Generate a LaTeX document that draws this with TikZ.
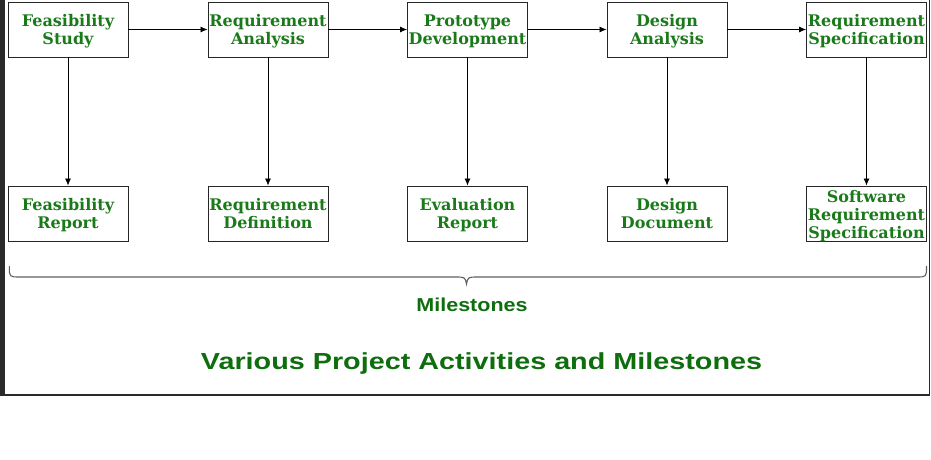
\documentclass[tikz,border=0pt]{standalone}
\usepackage{fontspec}
\setmainfont{DejaVu Serif}
\setsansfont{Liberation Sans}
\usetikzlibrary{arrows.meta}
\definecolor{boxgreen}{RGB}{26,122,26}
\definecolor{titlegreen}{RGB}{14,110,14}
\definecolor{framegray}{RGB}{42,42,42}
\definecolor{bracegray}{RGB}{95,95,95}
\begin{document}
\begin{tikzpicture}[x=1pt,y=-1pt,
  stagebox/.style={draw=black!85, line width=0.9pt, minimum width=120pt,
    minimum height=55pt, inner sep=0pt},
  % label text sits on the baseline of its last line
  stagetext/.style={inner sep=0pt, align=center, anchor=base,
    yshift=-14.8pt,
    font=\fontsize{16}{17.8}\selectfont\bfseries, text=boxgreen},
  threeline/.style={yshift=-10.2pt, font=\fontsize{16}{18}\selectfont\bfseries},
  flow/.style={-{Latex[length=7pt,width=6pt]}, line width=0.8pt, black}]
\useasboundingbox (0,0) rectangle (931,460);

% page frame: dark left bar, thin right and bottom rules
\fill[framegray] (0,0) rectangle (4.5,395.8);
\draw[framegray, line width=1.6pt] (0,395) -- (929.6,395) -- (929.6,0);

% activities
\node[stagebox] (fs) at (68,29.5)    {};
\node[stagebox] (ra) at (268,29.5)   {};
\node[stagebox] (pd) at (467.5,29.5) {};
\node[stagebox] (da) at (667,29.5)   {};
\node[stagebox] (rs) at (866.5,29.5) {};
\node[stagetext] (fs-t) at (fs) {Feasibility\\Study};
\node[stagetext] (ra-t) at (ra) {Requirement\\Analysis};
\node[stagetext] (pd-t) at (pd) {Prototype\\Development};
\node[stagetext] (da-t) at (da) {Design\\Analysis};
\node[stagetext] (rs-t) at (rs) {Requirement\\Specification};

% milestones
\node[stagebox] (fr) at (68,213.5)    {};
\node[stagebox] (rd) at (268,213.5)   {};
\node[stagebox] (er) at (467.5,213.5) {};
\node[stagebox] (dd) at (667,213.5)   {};
\node[stagebox] (sr) at (866.5,213.5) {};
\node[stagetext] (fr-t) at (fr) {Feasibility\\Report};
\node[stagetext] (rd-t) at (rd) {Requirement\\Definition};
\node[stagetext] (er-t) at (er) {Evaluation\\Report};
\node[stagetext] (dd-t) at (dd) {Design\\Document};
\node[stagetext, threeline] (sr-t) at (sr) {Software\\Requirement\\Specification};

% activity sequence
\draw[flow] (fs) -- (ra);
\draw[flow] (ra) -- (pd);
\draw[flow] (pd) -- (da);
\draw[flow] (da) -- (rs);

% activity -> milestone
\draw[flow] (fs) -- (fr);
\draw[flow] (ra) -- (rd);
\draw[flow] (pd) -- (er);
\draw[flow] (da) -- (dd);
\draw[flow] (rs) -- (sr);

% brace under the milestones
\coordinate (bl) at (9.3,266.5);
\coordinate (br) at (926.5,266.5);
\coordinate (bt) at (466.5,284);
\draw[bracegray, line width=1.1pt, line cap=round]
  (bl) .. controls (9.3,277) .. (20,277) -- (455,277)
  .. controls (465,277) .. (bt)
  .. controls (468,277) .. (478,277) -- (916,277)
  .. controls (926.5,277) .. (br);

\node[font=\sffamily\bfseries\fontsize{18.7}{20}\selectfont, text=titlegreen,
  anchor=base] (ms) at (472,311.7) {\scalebox{1.15}[1]{Milestones}};

\node[font=\sffamily\bfseries\fontsize{23.2}{25}\selectfont, text=titlegreen,
  anchor=base] (title) at (481.5,369.3)
  {\scalebox{1.24}[1]{Various Project Activities and Milestones}};
\end{tikzpicture}
\end{document}
